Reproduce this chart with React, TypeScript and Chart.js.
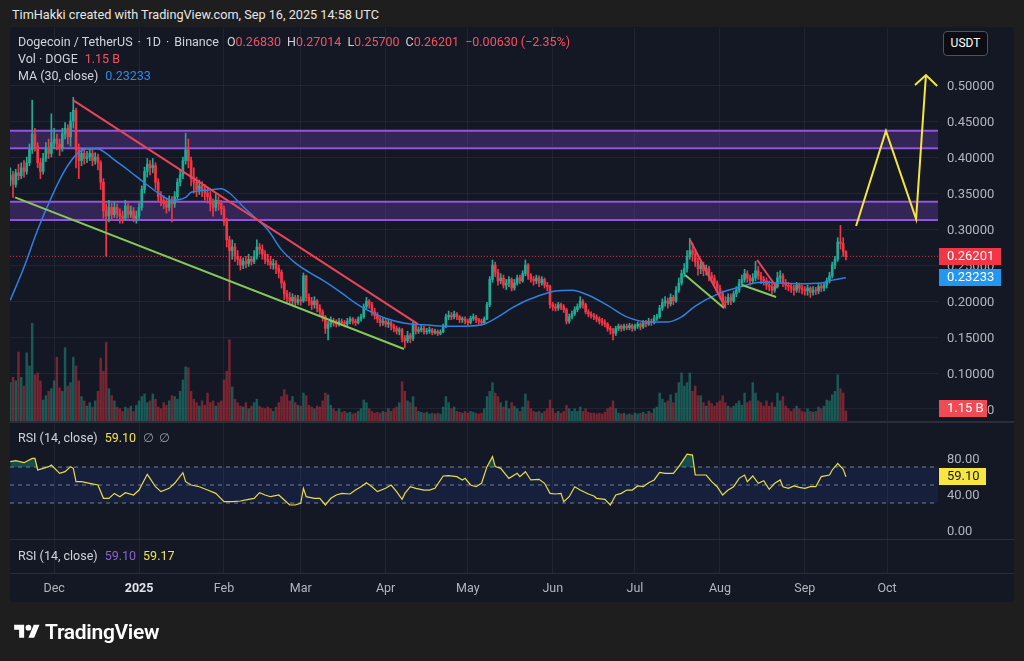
import React, { useEffect, useRef } from "react";
import { Chart, registerables } from "chart.js";

Chart.register(...registerables);

// ---------------- DATA ----------------
// x values are day indices: 0 = 15 Nov 2024, 305 = 16 Sep 2025
const MONTH_TICKS = [16, 47, 78, 106, 137, 167, 198, 228, 259, 290, 320];
const MONTH_LABELS = ["Dec", "2025", "Feb", "Mar", "Apr", "May", "Jun", "Jul", "Aug", "Sep", "Oct"];
const PRICE_TICKS = [0.05, 0.1, 0.15, 0.2, 0.25, 0.3, 0.35, 0.4, 0.45, 0.5];
const RSI_TICKS = [0, 40, 80];
const RSI_LEVELS = [70, 50, 30];

const FIRST_OPEN = 0.368;
const closes = [
  0.375, 0.362, 0.378, 0.374, 0.385, 0.380, 0.392, 0.410, 0.432, 0.415,
  0.392, 0.380, 0.398, 0.412, 0.405, 0.420, 0.425, 0.418, 0.412, 0.432,
  0.440, 0.428, 0.450, 0.465, 0.410, 0.395, 0.405, 0.398, 0.400, 0.405,
  0.395, 0.400, 0.392, 0.365, 0.325, 0.318, 0.330, 0.320, 0.330, 0.322,
  0.318, 0.315, 0.332, 0.320, 0.325, 0.315, 0.318, 0.330, 0.355, 0.380,
  0.390, 0.385, 0.388, 0.365, 0.345, 0.340, 0.335, 0.330, 0.340, 0.335,
  0.345, 0.365, 0.375, 0.395, 0.410, 0.395, 0.370, 0.365, 0.355, 0.360,
  0.355, 0.350, 0.345, 0.335, 0.330, 0.340, 0.335, 0.328, 0.310, 0.285,
  0.270, 0.275, 0.262, 0.258, 0.250, 0.255, 0.252, 0.258, 0.255, 0.262,
  0.275, 0.272, 0.265, 0.258, 0.255, 0.250, 0.252, 0.245, 0.240, 0.225,
  0.210, 0.205, 0.200, 0.205, 0.198, 0.202, 0.200, 0.235, 0.205, 0.200,
  0.195, 0.200, 0.190, 0.185, 0.178, 0.162, 0.168, 0.172, 0.170, 0.168,
  0.172, 0.170, 0.168, 0.172, 0.175, 0.172, 0.170, 0.175, 0.178, 0.192,
  0.200, 0.195, 0.185, 0.180, 0.175, 0.170, 0.172, 0.168, 0.170, 0.165,
  0.162, 0.158, 0.160, 0.148, 0.145, 0.152, 0.148, 0.168, 0.158, 0.160,
  0.162, 0.157, 0.158, 0.160, 0.156, 0.158, 0.155, 0.157, 0.165, 0.178,
  0.180, 0.178, 0.182, 0.178, 0.174, 0.175, 0.172, 0.170, 0.176, 0.178,
  0.174, 0.172, 0.170, 0.175, 0.195, 0.230, 0.250, 0.240, 0.228, 0.232,
  0.222, 0.225, 0.230, 0.218, 0.225, 0.232, 0.228, 0.238, 0.250, 0.235,
  0.230, 0.228, 0.232, 0.225, 0.230, 0.222, 0.220, 0.195, 0.192, 0.190,
  0.195, 0.192, 0.188, 0.172, 0.178, 0.182, 0.188, 0.192, 0.200, 0.195,
  0.185, 0.182, 0.180, 0.178, 0.175, 0.172, 0.170, 0.168, 0.162, 0.160,
  0.155, 0.162, 0.165, 0.162, 0.165, 0.163, 0.166, 0.162, 0.165, 0.168,
  0.164, 0.170, 0.168, 0.172, 0.170, 0.176, 0.178, 0.190, 0.198, 0.200,
  0.196, 0.205, 0.200, 0.215, 0.225, 0.238, 0.245, 0.262, 0.270, 0.265,
  0.255, 0.245, 0.250, 0.242, 0.245, 0.235, 0.232, 0.225, 0.218, 0.210,
  0.200, 0.198, 0.205, 0.200, 0.210, 0.215, 0.225, 0.230, 0.238, 0.232,
  0.228, 0.232, 0.242, 0.235, 0.230, 0.228, 0.222, 0.220, 0.215, 0.220,
  0.232, 0.235, 0.225, 0.222, 0.220, 0.218, 0.215, 0.222, 0.218, 0.216,
  0.214, 0.218, 0.212, 0.215, 0.214, 0.220, 0.218, 0.222, 0.228, 0.235,
  0.250, 0.258, 0.282, 0.280, 0.2683, 0.26201,
];
const highs = [
  0.385, 0.380, 0.383, 0.390, 0.392, 0.395, 0.400, 0.418, 0.479, 0.440,
  0.420, 0.398, 0.405, 0.420, 0.425, 0.460, 0.440, 0.432, 0.425, 0.440,
  0.448, 0.445, 0.462, 0.483, 0.468, 0.418, 0.412, 0.410, 0.408, 0.412,
  0.410, 0.406, 0.404, 0.395, 0.370, 0.335, 0.340, 0.336, 0.338, 0.335,
  0.328, 0.325, 0.340, 0.336, 0.332, 0.330, 0.325, 0.336, 0.360, 0.386,
  0.398, 0.395, 0.398, 0.392, 0.370, 0.352, 0.346, 0.342, 0.346, 0.345,
  0.352, 0.370, 0.382, 0.400, 0.433, 0.425, 0.400, 0.385, 0.372, 0.368,
  0.366, 0.362, 0.358, 0.352, 0.342, 0.348, 0.345, 0.340, 0.332, 0.315,
  0.290, 0.285, 0.280, 0.270, 0.262, 0.260, 0.262, 0.265, 0.262, 0.270,
  0.285, 0.280, 0.278, 0.270, 0.265, 0.262, 0.258, 0.256, 0.250, 0.243,
  0.228, 0.215, 0.212, 0.210, 0.208, 0.208, 0.206, 0.239, 0.236, 0.210,
  0.205, 0.206, 0.202, 0.195, 0.188, 0.180, 0.172, 0.178, 0.176, 0.174,
  0.176, 0.175, 0.173, 0.176, 0.178, 0.177, 0.175, 0.178, 0.182, 0.196,
  0.205, 0.202, 0.198, 0.190, 0.184, 0.178, 0.176, 0.175, 0.174, 0.172,
  0.168, 0.165, 0.163, 0.162, 0.152, 0.158, 0.155, 0.172, 0.170, 0.164,
  0.166, 0.165, 0.162, 0.164, 0.162, 0.161, 0.160, 0.160, 0.168, 0.182,
  0.186, 0.184, 0.186, 0.184, 0.180, 0.178, 0.178, 0.175, 0.179, 0.182,
  0.180, 0.176, 0.175, 0.178, 0.198, 0.234, 0.257, 0.254, 0.244, 0.238,
  0.236, 0.230, 0.234, 0.232, 0.230, 0.236, 0.236, 0.242, 0.257, 0.252,
  0.238, 0.234, 0.236, 0.235, 0.234, 0.232, 0.226, 0.222, 0.198, 0.196,
  0.198, 0.197, 0.195, 0.190, 0.182, 0.186, 0.192, 0.196, 0.206, 0.202,
  0.197, 0.188, 0.185, 0.183, 0.181, 0.178, 0.176, 0.174, 0.170, 0.165,
  0.162, 0.165, 0.168, 0.167, 0.168, 0.168, 0.169, 0.168, 0.168, 0.171,
  0.170, 0.173, 0.173, 0.176, 0.175, 0.180, 0.182, 0.194, 0.203, 0.206,
  0.204, 0.210, 0.208, 0.220, 0.232, 0.243, 0.252, 0.270, 0.287, 0.280,
  0.270, 0.260, 0.256, 0.254, 0.250, 0.248, 0.240, 0.236, 0.228, 0.222,
  0.214, 0.206, 0.210, 0.210, 0.214, 0.220, 0.230, 0.236, 0.244, 0.242,
  0.236, 0.238, 0.255, 0.248, 0.240, 0.234, 0.232, 0.228, 0.224, 0.226,
  0.240, 0.242, 0.238, 0.230, 0.226, 0.224, 0.222, 0.226, 0.225, 0.222,
  0.220, 0.222, 0.220, 0.220, 0.219, 0.224, 0.224, 0.226, 0.232, 0.240,
  0.254, 0.262, 0.288, 0.305, 0.288, 0.27014,
];
const lows = [
  0.360, 0.344, 0.358, 0.368, 0.370, 0.372, 0.376, 0.388, 0.405, 0.408,
  0.385, 0.370, 0.376, 0.394, 0.398, 0.400, 0.412, 0.410, 0.402, 0.408,
  0.425, 0.418, 0.415, 0.440, 0.385, 0.370, 0.388, 0.390, 0.392, 0.395,
  0.388, 0.390, 0.382, 0.355, 0.315, 0.262, 0.310, 0.312, 0.316, 0.315,
  0.308, 0.308, 0.312, 0.315, 0.316, 0.310, 0.308, 0.314, 0.326, 0.350,
  0.372, 0.375, 0.378, 0.355, 0.338, 0.332, 0.328, 0.322, 0.325, 0.310,
  0.330, 0.340, 0.360, 0.370, 0.390, 0.385, 0.360, 0.350, 0.345, 0.348,
  0.345, 0.340, 0.336, 0.325, 0.318, 0.325, 0.326, 0.320, 0.305, 0.275,
  0.201, 0.258, 0.255, 0.250, 0.243, 0.245, 0.246, 0.248, 0.250, 0.252,
  0.258, 0.265, 0.258, 0.252, 0.250, 0.245, 0.244, 0.238, 0.232, 0.218,
  0.202, 0.198, 0.195, 0.195, 0.192, 0.195, 0.194, 0.198, 0.200, 0.194,
  0.188, 0.190, 0.185, 0.180, 0.172, 0.155, 0.146, 0.164, 0.165, 0.164,
  0.165, 0.166, 0.164, 0.165, 0.168, 0.168, 0.166, 0.168, 0.172, 0.176,
  0.188, 0.190, 0.180, 0.175, 0.170, 0.165, 0.166, 0.164, 0.163, 0.160,
  0.157, 0.154, 0.153, 0.143, 0.135, 0.142, 0.142, 0.145, 0.154, 0.155,
  0.157, 0.154, 0.154, 0.155, 0.153, 0.154, 0.152, 0.153, 0.156, 0.163,
  0.174, 0.174, 0.175, 0.174, 0.170, 0.170, 0.168, 0.166, 0.168, 0.173,
  0.170, 0.168, 0.166, 0.168, 0.174, 0.192, 0.226, 0.234, 0.222, 0.224,
  0.218, 0.216, 0.220, 0.214, 0.215, 0.222, 0.224, 0.226, 0.235, 0.230,
  0.226, 0.222, 0.224, 0.220, 0.222, 0.218, 0.214, 0.190, 0.187, 0.186,
  0.187, 0.188, 0.184, 0.168, 0.169, 0.175, 0.180, 0.185, 0.190, 0.190,
  0.182, 0.178, 0.176, 0.174, 0.171, 0.168, 0.166, 0.164, 0.158, 0.154,
  0.146, 0.152, 0.159, 0.158, 0.159, 0.160, 0.160, 0.158, 0.159, 0.162,
  0.160, 0.162, 0.164, 0.166, 0.166, 0.168, 0.173, 0.176, 0.187, 0.193,
  0.190, 0.193, 0.195, 0.198, 0.212, 0.222, 0.234, 0.240, 0.258, 0.255,
  0.248, 0.236, 0.238, 0.235, 0.236, 0.228, 0.226, 0.220, 0.212, 0.204,
  0.194, 0.190, 0.195, 0.195, 0.198, 0.206, 0.212, 0.220, 0.226, 0.226,
  0.222, 0.224, 0.228, 0.230, 0.224, 0.222, 0.216, 0.214, 0.210, 0.212,
  0.218, 0.226, 0.220, 0.216, 0.214, 0.212, 0.208, 0.212, 0.212, 0.210,
  0.208, 0.208, 0.205, 0.208, 0.209, 0.210, 0.213, 0.214, 0.218, 0.225,
  0.232, 0.245, 0.255, 0.272, 0.262, 0.257,
];
// daily volume, billions DOGE
const volumes = [
  4.4, 5.0, 4.6, 7.9, 5.0, 4.0, 7.8, 6.3, 11.2, 5.3,
  5.5, 4.6, 2.4, 2.9, 3.4, 3.7, 4.6, 7.3, 3.8, 3.4,
  8.4, 4.0, 4.4, 7.3, 6.3, 4.6, 2.8, 2.3, 1.7, 2.1,
  1.6, 2.3, 3.4, 7.2, 5.7, 9.0, 3.7, 2.9, 2.3, 1.6,
  1.4, 1.1, 1.6, 1.4, 1.7, 1.1, 1.8, 2.3, 2.8, 3.1,
  2.1, 2.3, 3.1, 2.5, 1.6, 1.4, 2.1, 1.8, 2.3, 2.9,
  2.8, 2.5, 3.4, 4.7, 6.2, 6.1, 3.4, 2.5, 2.1, 1.7,
  2.3, 1.8, 3.2, 2.1, 2.3, 1.7, 2.1, 2.3, 4.7, 5.7,
  9.3, 3.9, 2.5, 2.1, 1.7, 1.6, 2.1, 1.4, 1.7, 2.1,
  2.5, 1.7, 1.5, 1.4, 1.6, 1.4, 1.1, 1.6, 2.1, 2.8,
  3.6, 3.0, 2.3, 2.8, 2.1, 1.8, 1.7, 3.2, 2.9, 1.8,
  1.6, 1.4, 1.7, 1.6, 2.3, 3.2, 3.0, 1.8, 1.4, 1.1,
  1.4, 1.0, 1.1, 0.9, 1.0, 0.8, 0.9, 1.1, 1.4, 2.4,
  2.1, 1.4, 1.1, 0.9, 1.0, 0.9, 1.1, 1.0, 1.4, 1.1,
  1.4, 1.6, 2.1, 4.5, 3.4, 2.3, 2.1, 2.8, 1.6, 1.1,
  1.0, 0.9, 1.0, 0.8, 0.9, 0.8, 0.9, 0.8, 1.6, 2.8,
  2.1, 1.4, 1.6, 1.1, 1.0, 0.9, 1.1, 0.9, 1.1, 1.0,
  0.9, 0.8, 0.9, 1.4, 2.8, 3.4, 4.4, 3.2, 2.8, 2.1,
  1.6, 2.3, 1.4, 2.1, 1.7, 1.4, 1.1, 1.6, 3.1, 2.3,
  1.4, 1.1, 1.0, 1.1, 0.9, 1.1, 1.4, 2.4, 1.4, 0.9,
  1.1, 0.9, 1.1, 1.8, 1.4, 1.1, 1.4, 1.1, 1.6, 1.1,
  1.4, 1.0, 0.9, 0.9, 0.8, 0.9, 0.8, 1.0, 1.4, 1.6,
  2.3, 1.4, 0.9, 0.8, 0.9, 0.7, 0.8, 0.7, 0.9, 0.8,
  0.9, 1.0, 0.8, 1.1, 0.9, 1.4, 1.6, 3.2, 2.5, 2.1,
  2.3, 3.0, 2.1, 3.2, 4.4, 5.5, 4.0, 4.4, 5.5, 3.4,
  4.0, 2.9, 2.9, 2.1, 1.7, 2.3, 2.0, 1.7, 2.1, 2.3,
  2.9, 2.1, 1.7, 1.5, 1.7, 2.0, 2.3, 1.8, 3.2, 2.1,
  2.3, 4.4, 3.2, 2.3, 2.1, 1.7, 2.3, 1.7, 2.1, 1.6,
  3.2, 2.3, 2.8, 1.7, 1.4, 1.1, 1.4, 1.7, 1.4, 1.1,
  1.0, 1.4, 1.1, 1.0, 1.1, 1.6, 1.4, 1.7, 2.4, 2.3,
  3.0, 3.4, 5.3, 3.7, 3.2, 1.15,
];
// MA(30, close): [dayIndex, value]
const maPoints = [
  [0, 0.201], [5, 0.247], [10, 0.299], [15, 0.344], [20, 0.382], [24, 0.403], [28, 0.411],
  [32, 0.411], [35, 0.405], [38, 0.396], [43, 0.382], [49, 0.364], [54, 0.35], [59, 0.34],
  [64, 0.344], [66, 0.351], [72, 0.354], [77, 0.356], [80, 0.35], [85, 0.331], [89, 0.317],
  [94, 0.299], [99, 0.271], [104, 0.253], [109, 0.24], [114, 0.229], [121, 0.211], [126, 0.197],
  [130, 0.188], [137, 0.176], [144, 0.169], [151, 0.167], [159, 0.165], [166, 0.165], [173, 0.168],
  [178, 0.178], [183, 0.19], [188, 0.2], [192, 0.206], [199, 0.214], [205, 0.215], [211, 0.208],
  [218, 0.194], [225, 0.178], [233, 0.171], [240, 0.171], [245, 0.178], [250, 0.193], [259, 0.211],
  [266, 0.219], [274, 0.226], [281, 0.225], [288, 0.224], [296, 0.225], [300, 0.229], [305, 0.23233],
];
// RSI(14): [dayIndex, value]
const rsiPoints = [
  [0, 75.9], [2, 77.0], [5, 74.8], [8, 79.6], [9, 79.6], [10, 66.7], [12, 68.5], [14, 70.4], [15, 72.2],
  [18, 63.0], [20, 64.8], [22, 70.4], [23, 68.5], [24, 53.7], [26, 53.7], [29, 51.9], [32, 50.0],
  [34, 35.2], [36, 35.2], [38, 40.7], [40, 37.0], [42, 41.5], [45, 38.9], [47, 44.4], [50, 61.9],
  [51, 57.4], [53, 48.1], [55, 42.6], [58, 46.3], [60, 51.9], [63, 63.7], [64, 53.7], [66, 50.0],
  [69, 48.1], [72, 44.4], [75, 40.7], [78, 31.5], [81, 31.5], [84, 32.2], [87, 34.1], [89, 35.2],
  [91, 41.5], [93, 38.9], [95, 37.0], [98, 38.9], [100, 33.3], [102, 27.8], [104, 27.8], [106, 29.6],
  [107, 46.3], [108, 37.0], [111, 35.2], [113, 35.2], [115, 27.8], [117, 35.2], [119, 38.9], [121, 40.7],
  [124, 40.0], [126, 44.4], [128, 48.1], [130, 52.6], [132, 48.1], [134, 42.6], [137, 46.3], [139, 50.0],
  [141, 42.6], [143, 34.1], [144, 40.7], [146, 48.1], [148, 46.3], [151, 44.4], [153, 44.4], [155, 46.3],
  [158, 60.0], [160, 60.4], [163, 59.3], [165, 55.6], [166, 57.4], [168, 50.0], [170, 48.1], [172, 51.9],
  [174, 70.4], [176, 81.5], [177, 70.4], [179, 68.5], [181, 61.1], [182, 57.4], [185, 63.0], [186, 59.3],
  [188, 64.8], [190, 55.6], [193, 56.3], [195, 51.9], [197, 40.7], [199, 40.0], [201, 40.7], [202, 31.5],
  [204, 37.0], [206, 48.1], [208, 44.4], [211, 40.0], [213, 37.8], [214, 35.2], [217, 34.1], [219, 27.8],
  [221, 38.9], [223, 40.7], [225, 44.4], [227, 44.4], [229, 48.9], [231, 48.1], [233, 52.6], [235, 55.6],
  [237, 64.1], [239, 63.0], [242, 63.0], [244, 70.4], [246, 79.6], [247, 84.4], [249, 83.3], [250, 61.1],
  [252, 61.1], [254, 61.1], [256, 53.7], [258, 48.1], [260, 38.9], [262, 44.4], [264, 48.1], [266, 57.4],
  [268, 61.1], [269, 53.7], [271, 60.0], [273, 51.9], [275, 54.8], [277, 45.2], [279, 51.9], [281, 55.6],
  [282, 48.1], [284, 46.3], [286, 48.9], [288, 47.4], [290, 46.3], [292, 48.1], [294, 48.1], [296, 59.3],
  [299, 61.1], [300, 66.7], [302, 74.1], [304, 67.4], [305, 59.1],
];
// drawings, in [dayIndex, price]
const zones = [[0.4365, 0.4121], [0.338, 0.3125]];
const redTrend = [[22.9, 0.479], [148.8, 0.168]];
const greenTrend = [[1.75, 0.344], [143.7, 0.1333]];
const redFlag1 = [[248.1, 0.2847], [260.9, 0.1917]];
const greenFlag1 = [[246.3, 0.2361], [260.5, 0.1903]];
const redFlag2 = [[272.6, 0.2569], [279.9, 0.2181]];
const greenFlag2 = [[267.1, 0.2222], [279.5, 0.2056]];
const yellowPath = [[308.7, 0.3042], [319.6, 0.4361], [330.6, 0.3139], [334.2, 0.5139]];
const yellowHead = [[330.2, 0.5], [334.2, 0.5139], [338.3, 0.4986]];

const LAST_CLOSE = closes[closes.length - 1];
const LAST_MA = maPoints[maPoints.length - 1][1];
const LAST_VOL = volumes[volumes.length - 1];
const LAST_RSI = rsiPoints[rsiPoints.length - 1][1];

// ---------------- STYLE ----------------
const FONT = "Roboto, 'Noto Sans', 'DejaVu Sans', sans-serif";
const BG_OUT = "#1e1e1e";
const PANEL = "#141824";
const GRID = "rgba(255,255,255,0.055)";
const SEP = "#2a2e39";
const AXIS_TEXT = "#b2b5be";
const TEXT = "#d1d4dc";
const UP = "#22ab94";
const DOWN = "#f23645";
const VAL_RED = "#f7525f";
const VOL_UP = "rgba(34,171,148,0.45)";
const VOL_DOWN = "rgba(242,54,69,0.45)";
const MA_COLOR = "#2f80e0";
const ZONE_LINE = "#9257dc";
const ZONE_FILL = "rgba(126,70,200,0.30)";
const YELLOW = "#f5e63d";

const X_MIN = -0.1;
const X_MAX = 338.6;
const P_MIN = 0.03333;
const P_MAX = 0.5792;
const R_MIN = -10;
const R_MAX = 118.9;

const idxs = closes.map((_, i) => i);
const opens = closes.map((_, i) => (i === 0 ? FIRST_OPEN : closes[i - 1]));
const isUp = (i: number) => closes[i] >= opens[i];
const pts = (arr: number[][]) => arr.map(([x, y]) => ({ x, y }));

const lineDs = (data: number[][], color: string, width: number, order: number, extra: any = {}) => ({
  type: "line",
  data: pts(data),
  borderColor: color,
  borderWidth: width,
  pointRadius: 0,
  fill: false,
  tension: 0,
  yAxisID: "y",
  xAxisID: "x",
  order,
  ...extra,
});

const xAxis = (labels: boolean) => ({
  type: "linear",
  min: X_MIN,
  max: X_MAX,
  offset: false,
  grid: { color: GRID, drawTicks: false, offset: false },
  border: { display: false },
  ticks: {
    display: labels,
    autoSkip: false,
    maxRotation: 0,
    padding: 7,
    color: (c: any) => (c.tick && c.tick.value === 47 ? "#e0e3eb" : AXIS_TEXT),
    font: (c: any) => ({ family: FONT, size: 12.5, weight: c.tick && c.tick.value === 47 ? "bold" : "normal" }),
    callback: (v: any) => MONTH_LABELS[MONTH_TICKS.indexOf(Number(v))] ?? "",
  },
  afterBuildTicks: (s: any) => {
    s.ticks = MONTH_TICKS.map((v) => ({ value: v }));
  },
  afterFit: (s: any) => {
    s.height = labels ? 28 : 0;
    s.paddingLeft = 0;
    s.paddingRight = 0;
  },
});

const rightAxis = (min: number, max: number, ticks: number[], digits: number, showGrid: boolean) => ({
  position: "right",
  min,
  max,
  grid: { color: GRID, drawTicks: false, display: showGrid },
  border: { display: false },
  ticks: {
    color: AXIS_TEXT,
    padding: 9,
    labelOffset: 1.5,
    font: { family: FONT, size: 13 },
    callback: (v: any) => Number(v).toFixed(digits),
  },
  afterBuildTicks: (s: any) => {
    s.ticks = ticks.map((v) => ({ value: v }));
  },
  afterFit: (s: any) => {
    s.width = 76;
    s.paddingTop = 0;
    s.paddingBottom = 0;
  },
});

const drawBox = (chart: any, yPix: number, text: string, bg: string, fg: string, w: number) => {
  const { ctx, chartArea } = chart;
  ctx.save();
  ctx.fillStyle = bg;
  ctx.fillRect(chartArea.right + 1, Math.round(yPix - 8.5), w, 17);
  ctx.fillStyle = fg;
  ctx.font = `13px ${FONT}`;
  ctx.textBaseline = "middle";
  ctx.textAlign = "left";
  ctx.fillText(text, chartArea.right + 9, Math.round(yPix - 8.5) + 9);
  ctx.restore();
};

const mainLabels = {
  id: "mainLabels",
  afterDraw(chart: any) {
    const y = chart.scales.y;
    const vol = chart.scales.vol;
    drawBox(chart, y.getPixelForValue(LAST_CLOSE), LAST_CLOSE.toFixed(5), "#f23645", "#ffffff", 62);
    drawBox(chart, y.getPixelForValue(LAST_MA), LAST_MA.toFixed(5), "#2196f3", "#ffffff", 62);
    drawBox(chart, vol.getPixelForValue(LAST_VOL) - 2, `${LAST_VOL.toFixed(2)} B`, "#ef4b55", "#ffffff", 48);
  },
};

const rsiLabels = {
  id: "rsiLabels",
  afterDraw(chart: any) {
    drawBox(chart, chart.scales.y.getPixelForValue(LAST_RSI), LAST_RSI.toFixed(2), "#f7e63f", "#131722", 47);
  },
};

function mainConfig(): any {
  const datasets: any[] = [];
  zones.forEach(([top, bottom]) => {
    datasets.push(
      lineDs([[X_MIN, top], [X_MAX, top]], ZONE_LINE, 2, 100, { fill: "+1", backgroundColor: ZONE_FILL }),
      lineDs([[X_MIN, bottom], [X_MAX, bottom]], ZONE_LINE, 2, 100)
    );
  });
  datasets.push({
    type: "bar",
    data: idxs.map((i) => ({ x: i, y: volumes[i] })),
    backgroundColor: idxs.map((i) => (isUp(i) ? VOL_UP : VOL_DOWN)),
    barThickness: 1.8,
    grouped: false,
    yAxisID: "vol",
    xAxisID: "x",
    order: 90,
  });
  datasets.push(
    lineDs([[X_MIN, LAST_CLOSE], [X_MAX, LAST_CLOSE]], "rgba(242,54,69,0.85)", 1, 80, { borderDash: [1, 2] })
  );
  datasets.push({
    type: "bar",
    data: idxs.map((i) => ({ x: i, y: [lows[i], highs[i]] })),
    backgroundColor: idxs.map((i) => (isUp(i) ? UP : DOWN)),
    barThickness: 1,
    grouped: false,
    yAxisID: "y",
    xAxisID: "x",
    order: 70,
  });
  datasets.push({
    type: "bar",
    data: idxs.map((i) => ({ x: i, y: [opens[i], closes[i]] })),
    backgroundColor: idxs.map((i) => (isUp(i) ? UP : DOWN)),
    barThickness: 2,
    minBarLength: 1,
    grouped: false,
    yAxisID: "y",
    xAxisID: "x",
    order: 60,
  });
  datasets.push(lineDs(maPoints, MA_COLOR, 1.5, 50, { cubicInterpolationMode: "monotone" }));
  datasets.push(lineDs(redTrend, "#e8445a", 2, 40));
  datasets.push(lineDs(greenTrend, "#86c95a", 2, 40));
  datasets.push(lineDs(redFlag1, "#e8445a", 2, 40));
  datasets.push(lineDs(greenFlag1, "#86c95a", 2, 40));
  datasets.push(lineDs(redFlag2, "#e8445a", 2, 40));
  datasets.push(lineDs(greenFlag2, "#86c95a", 2, 40));
  datasets.push(lineDs(yellowPath, YELLOW, 2, 30));
  datasets.push(lineDs(yellowHead, YELLOW, 2, 30));
  return {
    type: "bar",
    data: { datasets },
    options: {
      responsive: false,
      animation: false,
      devicePixelRatio: 1,
      events: [],
      layout: { padding: 0 },
      plugins: { legend: { display: false }, tooltip: { enabled: false } },
      scales: {
        x: xAxis(false),
        y: rightAxis(P_MIN, P_MAX, PRICE_TICKS, 5, true),
        vol: { display: false, min: 0, max: 45 },
      },
    },
    plugins: [mainLabels],
  };
}

function rsiConfig(): any {
  const hline = (v: number, extra: any = {}) =>
    lineDs([[X_MIN, v], [X_MAX, v]], "rgba(150,152,161,0.8)", 1, 20, { borderDash: [4, 4], ...extra });
  const datasets: any[] = [
    hline(RSI_LEVELS[0], { fill: "+2", backgroundColor: "rgba(41,98,255,0.11)" }),
    hline(RSI_LEVELS[1]),
    hline(RSI_LEVELS[2]),
    lineDs(rsiPoints, "#e8dc48", 1.2, 10, {
      fill: { target: { value: 70 }, above: "rgba(34,171,148,0.35)", below: "rgba(0,0,0,0)" },
    }),
    lineDs(rsiPoints, "rgba(0,0,0,0)", 0, 11, {
      fill: { target: { value: 30 }, above: "rgba(0,0,0,0)", below: "rgba(242,54,69,0.25)" },
    }),
  ];
  return {
    type: "line",
    data: { datasets },
    options: {
      responsive: false,
      animation: false,
      devicePixelRatio: 1,
      events: [],
      layout: { padding: 0 },
      plugins: { legend: { display: false }, tooltip: { enabled: false } },
      scales: {
        x: xAxis(false),
        y: rightAxis(R_MIN, R_MAX, RSI_TICKS, 2, false),
      },
    },
    plugins: [rsiLabels],
  };
}

function timeConfig(): any {
  return {
    type: "line",
    data: { datasets: [] },
    options: {
      responsive: false,
      animation: false,
      devicePixelRatio: 1,
      events: [],
      layout: { padding: 0 },
      plugins: { legend: { display: false }, tooltip: { enabled: false } },
      scales: {
        x: xAxis(true),
        y: {
          position: "right",
          min: 0,
          max: 1,
          grid: { display: false },
          border: { display: false },
          ticks: { display: false },
          afterFit: (s: any) => {
            s.width = 76;
            s.paddingTop = 0;
            s.paddingBottom = 0;
          },
        },
      },
    },
  };
}

const abs = (left: number, top: number, extra: any = {}): React.CSSProperties => ({
  position: "absolute",
  left,
  top,
  ...extra,
});

const legendRow = (top: number, size = 12.5): React.CSSProperties =>
  abs(18, top - 8, { height: 16, lineHeight: "16px", fontSize: size, whiteSpace: "nowrap", color: TEXT, fontFamily: FONT });

export default function App() {
  const mainRef = useRef<HTMLCanvasElement>(null);
  const rsiRef = useRef<HTMLCanvasElement>(null);
  const timeRef = useRef<HTMLCanvasElement>(null);

  useEffect(() => {
    document.body.style.margin = "0";
    document.body.style.background = BG_OUT;
    Chart.defaults.font.family = FONT;
    const charts = [
      new Chart(mainRef.current as HTMLCanvasElement, mainConfig()),
      new Chart(rsiRef.current as HTMLCanvasElement, rsiConfig()),
      new Chart(timeRef.current as HTMLCanvasElement, timeConfig()),
    ];
    return () => charts.forEach((c) => c.destroy());
  }, []);

  const gap = { marginLeft: 6 };
  const dot = { margin: "0 5px" };
  return (
    <div style={{ position: "fixed", left: 0, top: 0, width: 1024, height: 661, background: BG_OUT, overflow: "hidden", fontFamily: FONT }}>
      <div style={abs(12, 7, { height: 16, lineHeight: "16px", fontSize: 12.7, color: "#e6e6e6", whiteSpace: "nowrap" })}>
        TimHakki created with TradingView.com, Sep 16, 2025 14:58 UTC
      </div>
      <div style={abs(10, 27, { width: 1004, height: 575, background: PANEL, borderRadius: 3 })} />
      <canvas ref={mainRef} width={1004} height={393} style={abs(10, 28, { width: 1004, height: 393 })} />
      <div style={abs(10, 421, { width: 1004, height: 2, background: SEP })} />
      <canvas ref={rsiRef} width={1004} height={116} style={abs(10, 423, { width: 1004, height: 116 })} />
      <div style={abs(10, 539, { width: 1004, height: 1, background: SEP })} />
      <canvas ref={timeRef} width={1004} height={62} style={abs(10, 540, { width: 1004, height: 62 })} />
      <div style={abs(10, 573, { width: 1004, height: 1, background: SEP })} />

      <div style={legendRow(42)}>
        <span>Dogecoin / TetherUS</span>
        <span style={dot}>·</span>
        <span>1D</span>
        <span style={dot}>·</span>
        <span>Binance</span>
        <span style={{ marginLeft: 8 }}>O</span><span style={{ color: VAL_RED }}>0.26830</span>
        <span style={gap}>H</span><span style={{ color: VAL_RED }}>0.27014</span>
        <span style={gap}>L</span><span style={{ color: VAL_RED }}>0.25700</span>
        <span style={gap}>C</span><span style={{ color: VAL_RED }}>0.26201</span>
        <span style={{ ...gap, color: VAL_RED }}>−0.00630 (−2.35%)</span>
      </div>
      <div style={legendRow(59)}>
        <span>Vol · DOGE</span>
        <span style={{ marginLeft: 7, color: VAL_RED }}>1.15 B</span>
      </div>
      <div style={legendRow(76)}>
        <span>MA (30, close)</span>
        <span style={{ marginLeft: 7, color: "#2f8ae8" }}>0.23233</span>
      </div>
      <div style={legendRow(438)}>
        <span>RSI (14, close)</span>
        <span style={{ marginLeft: 7, color: "#f2e34a" }}>59.10</span>
        <span style={{ marginLeft: 7, color: "#9598a1" }}>∅</span>
        <span style={{ marginLeft: 5, color: "#9598a1" }}>∅</span>
      </div>
      <div style={legendRow(556)}>
        <span>RSI (14, close)</span>
        <span style={{ marginLeft: 7, color: "#8a63d2" }}>59.10</span>
        <span style={{ marginLeft: 7, color: "#f2e34a" }}>59.17</span>
      </div>

      <div
        style={abs(943, 31, {
          width: 45,
          height: 25,
          boxSizing: "border-box",
          border: "1px solid #50535e",
          borderRadius: 4,
          background: "#0b0d12",
          color: "#ffffff",
          fontSize: 12,
          lineHeight: "23px",
          textAlign: "center",
        })}
      >
        USDT
      </div>

      <div style={abs(12, 621, { display: "flex", alignItems: "center", height: 22 })}>
        <svg width="30" height="20" viewBox="0 0 36 28">
          <path d="M14 22H7V11H0V4h14v18z" fill="#ffffff" />
          <circle cx="20" cy="8" r="4" fill="#ffffff" />
          <path d="M28 22h-8l7.5-18h8L28 22z" fill="#ffffff" />
        </svg>
        <span style={{ marginLeft: 3, color: "#ffffff", fontSize: 21, fontWeight: 600, letterSpacing: -0.3 }}>TradingView</span>
      </div>
    </div>
  );
}
